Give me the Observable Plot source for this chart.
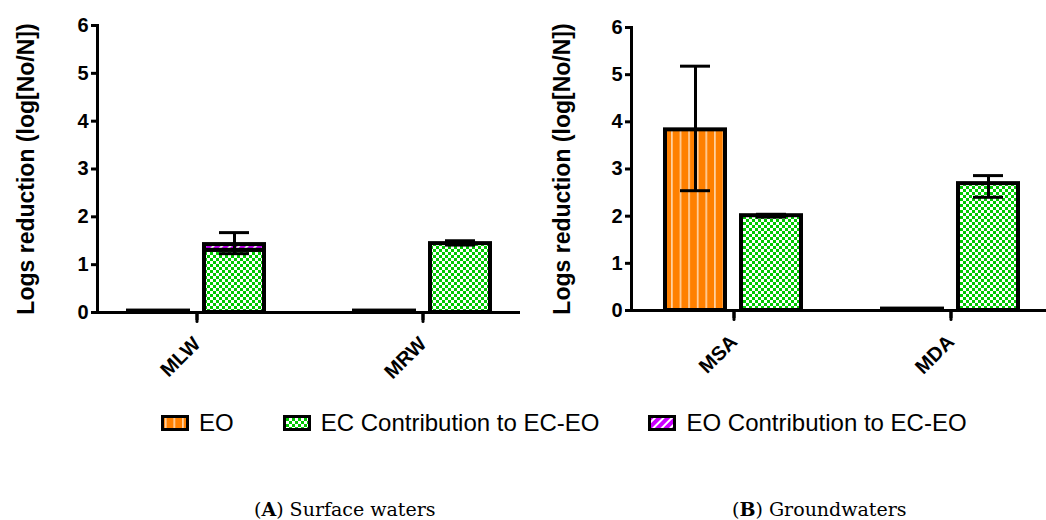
<!DOCTYPE html>
<html><head><meta charset="utf-8">
<script src="https://cdn.jsdelivr.net/npm/d3@7"></script>
<script src="https://cdn.jsdelivr.net/npm/@observablehq/plot@0.6"></script>
<style>
body{margin:0;background:#fff;}
#wrap{position:relative;width:1046px;height:520px;overflow:hidden;font-family:"Liberation Sans",Arial,sans-serif;background:#fff;}
#left{position:absolute;left:0;top:0;width:522px;}
#right{position:absolute;left:520px;top:0;width:534px;}
#left svg,#right svg{max-width:none !important;}
#legend{position:absolute;left:161px;top:409px;display:flex;align-items:center;gap:49px;font-size:24px;color:#000;}
.item{display:flex;align-items:center;gap:10px;}
.item svg{display:block;}
.cap{position:absolute;top:498px;font-family:"DejaVu Serif",serif;font-size:19px;color:#000;white-space:nowrap;}
</style></head><body>
<svg width="0" height="0" style="position:absolute">
<defs>
<pattern id="patEO" patternUnits="userSpaceOnUse" width="8.6" height="10"><rect width="8.6" height="10" fill="#FF8000"/><rect x="4" width="1.4" height="10" fill="#FFE3C4"/></pattern>
<pattern id="patEC" patternUnits="userSpaceOnUse" width="6" height="6"><rect width="6" height="6" fill="#ffffff"/><rect width="3" height="3" fill="#00C800"/><rect x="3" y="3" width="3" height="3" fill="#00C800"/></pattern>
<pattern id="patEOc" patternUnits="userSpaceOnUse" width="6" height="6" patternTransform="rotate(45)"><rect width="6" height="6" fill="#CC00FF"/><rect width="2" height="6" fill="#ffffff"/></pattern>
</defs></svg>
<div id="wrap">
  <div id="left"></div>
  <div id="right"></div>
  <div id="legend"></div>
  <div class="cap" style="left:254px;">(<b>A</b>) Surface waters</div>
  <div class="cap" style="left:732px;">(<b>B</b>) Groundwaters</div>
</div>
<script>
// ---- data ----
const seriesNames = ["EO", "EC-EO"];
const yLabel = "Logs reduction (log[No/N])";
const yTicks = [0, 1, 2, 3, 4, 5, 6];

// (A) Surface waters
const surfaceCats = ["MLW", "MRW"];
const surfEO = [0.03, 0.03];
const surfEOLo = [null, null];
const surfEOHi = [null, null];
const surfEC = [1.30, 1.44];
const surfEOc = [0.12, 0.00];
const surfMixLo = [1.23, 1.41];
const surfMixHi = [1.67, 1.50];

// (B) Groundwaters
const groundCats = ["MSA", "MDA"];
const groundEO = [3.83, 0.03];
const groundEOLo = [2.54, null];
const groundEOHi = [5.18, null];
const groundEC = [2.01, 2.69];
const groundEOc = [0.00, 0.00];
const groundMixLo = [1.98, 2.40];
const groundMixHi = [2.04, 2.86];

const legendItems = [
  {label: "EO", fill: "url(#patEO)"},
  {label: "EC Contribution to EC-EO", fill: "url(#patEC)"},
  {label: "EO Contribution to EC-EO", fill: "url(#patEOc)"}
];

// straight-line shape for the category tick marks
const tickShape = {draw(context, l) { context.moveTo(0, 0); context.lineTo(0, -l); }};

function panel(cats, eo, eoLo, eoHi, ec, eoc, mixLo, mixHi, o) {
  const eoRows = cats.map((c, i) => ({cat: c, s: "EO", y1: 0, y2: eo[i]}));
  const ecRows = cats.map((c, i) => ({cat: c, s: "EC-EO", y1: 0, y2: ec[i]}));
  const eocRows = cats.map((c, i) => ({cat: c, s: "EC-EO", y1: ec[i], y2: ec[i] + eoc[i]})).filter(d => d.y2 > d.y1);
  const errRows = [];
  cats.forEach((c, i) => {
    if (eoLo[i] != null) errRows.push({cat: c, s: "EO", lo: eoLo[i], hi: eoHi[i]});
    if (mixLo[i] != null) errRows.push({cat: c, s: "EC-EO", lo: mixLo[i], hi: mixHi[i]});
  });
  const barOpts = {fx: "cat", x: "s", y1: "y1", y2: "y2", stroke: "black", strokeWidth: 4};
  return Plot.plot({
    width: o.width, height: 400,
    marginLeft: o.marginLeft, marginRight: 0, marginTop: o.marginTop, marginBottom: o.marginBottom,
    style: {fontFamily: "Liberation Sans, Arial, sans-serif", fontSize: "20px", fontWeight: "bold", color: "#000", background: "white", overflow: "visible", maxWidth: "none"},
    fx: {domain: cats, paddingInner: o.fxPad, paddingOuter: 0, label: null},
    x: {domain: seriesNames, paddingInner: 0.21, paddingOuter: o.xOuter, axis: null},
    y: {domain: [0, 6]},
    marks: [
      Plot.barY(eoRows, {...barOpts, fill: "url(#patEO)"}),
      Plot.barY(ecRows, {...barOpts, fill: "url(#patEC)"}),
      Plot.barY(eocRows, {...barOpts, fill: "url(#patEOc)"}),
      Plot.ruleX(errRows, {fx: "cat", x: "s", y1: "lo", y2: "hi", stroke: "black", strokeWidth: 3}),
      Plot.tickY(errRows, {fx: "cat", x: "s", y: "hi", stroke: "black", strokeWidth: 3, insetLeft: 15, insetRight: 15}),
      Plot.tickY(errRows, {fx: "cat", x: "s", y: "lo", stroke: "black", strokeWidth: 3, insetLeft: 15, insetRight: 15}),
      Plot.frame({anchor: "bottom", facet: "super", stroke: "black", strokeWidth: 3}),
      Plot.frame({anchor: "left", facet: "super", stroke: "black", strokeWidth: 3}),
      Plot.vector(cats, {fx: d => d, frameAnchor: "bottom", length: 9, rotate: 180, anchor: "start", shape: tickShape, stroke: "black", strokeWidth: 3}),
      Plot.axisY({ticks: yTicks, tickFormat: d => String(d), tickSize: 6, strokeWidth: 3, tickPadding: 3, label: yLabel, labelAnchor: "center", labelArrow: "none", labelOffset: o.labelOffset, fontSize: 20}),
      Plot.axisFx({anchor: "bottom", tickSize: 8, strokeWidth: 3, tickRotate: -45, tickPadding: 20, label: null, fontSize: 20})
    ]
  });
}

const left = panel(surfaceCats, surfEO, surfEOLo, surfEOHi, surfEC, surfEOc, surfMixLo, surfMixHi,
  {width: 522, marginLeft: 97, marginTop: 25, marginBottom: 88, labelOffset: 80, fxPad: 0.12, xOuter: 0.40});
const right = panel(groundCats, groundEO, groundEOLo, groundEOHi, groundEC, groundEOc, groundMixLo, groundMixHi,
  {width: 534, marginLeft: 110, marginTop: 27, marginBottom: 90, labelOffset: 78, fxPad: 0.055, xOuter: 0.44});
document.getElementById("left").append(left);
document.getElementById("right").append(right);

// larger y-axis titles
for (const svg of [left, right]) {
  svg.querySelectorAll("[aria-label='y-axis label']").forEach(g => {
    g.setAttribute("font-size", 23);
    g.querySelectorAll("text").forEach(t => t.setAttribute("font-size", 23));
  });
}

const legend = document.getElementById("legend");
for (const it of legendItems) {
  const item = document.createElement("div");
  item.className = "item";
  item.innerHTML = `<svg width="28" height="16"><rect x="1.5" y="1.5" width="25" height="13" fill="${it.fill}" stroke="black" stroke-width="3"/></svg><span>${it.label}</span>`;
  legend.append(item);
}
</script>
</body></html>
